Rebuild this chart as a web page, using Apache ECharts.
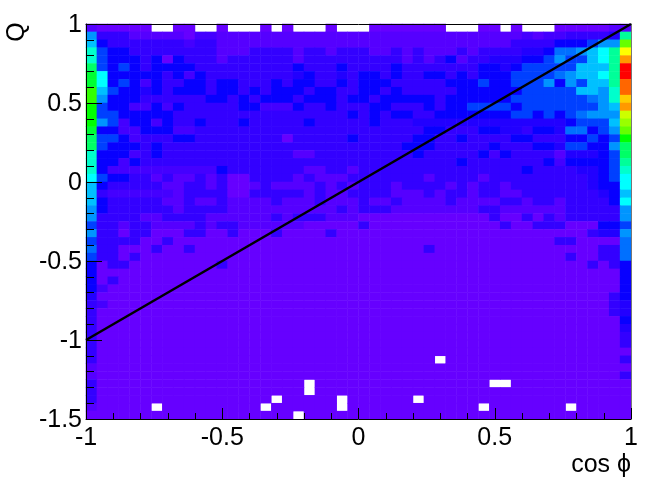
<!DOCTYPE html>
<html>
<head>
<meta charset="utf-8">
<style>html,body{margin:0;padding:0;background:#fff}#c{width:664px;height:477px}</style>
<script src="https://cdn.jsdelivr.net/npm/echarts@6/dist/echarts.min.js"></script>
</head>
<body>
<div id="c"></div>
<script>
// Each row is one Q bin (top to bottom), each character a cos-phi bin: colour level 0-9,a-p; "." = empty bin.
const rowsUpper = [
"100000..00 ..0...0.0. ..0...0000 000...00.0 ...0000011",
"8333111110 2211111111 1111111111 1111111111 212233334c",
"9533333332 3311111111 1111111111 1111111113 333555688h",
"b655333333 3311133331 3313331131 3111313333 4457789ack",
"b655535053 3313333331 3333333331 3135133444 5568669acm",
"d656535555 3333333335 3335333353 3333335545 66666999cp",
"ea55555352 5333333334 5334355353 3553535556 6667899acp",
"ea56525335 5355333535 5335355533 3335556556 66858699cn",
"g965545355 5355353555 3553355353 3333555555 66666998bn",
"g855533333 3553535553 5553553555 5535555556 66666678bl",
"f655225253 3333552225 3353335533 3535566665 666666689m",
"f665555533 3333333333 3333535355 3355555556 656567888j",
"f862552533 5333533333 5333335333 4444444444 444456669i",
"e552255522 3333333333 3333333333 3553335544 355477568h",
"d665233355 3333333303 3333533333 5533533335 533355656f",
"d655535333 3333333333 3333333335 5533333533 355466558d",
"b555235333 3333333331 1333333333 5333335253 333144456d"
];
const rowsMiddle = [
"b552533333 3333333333 3333333333 3333533333 335255556c",
"b522222222 2253333333 1133133333 3333333333 533334456b",
"a655331311 3130033331 3111333333 3133331333 333333456a",
"9533333113 3130013111 1313133313 3331313313 333333455a",
"9322222213 3330033333 1311333311 1313313311 3333333459",
"9533333113 1131111311 1311131131 1113111133 133133335a",
"8533333313 3331111111 1113133311 1111113311 1111333338",
"8333311333 3111111313 3311100000 0000000300 3031333338",
"6331331111 3133111111 0000030000 0000000030 0333000556",
"8330330003 3003000300 0030000000 0000000000 0000003448",
"6333300300 0000000000 0000000000 0000000000 0003300007",
"7330003003 0000000000 0000000000 0300000000 0000000337",
"6330300000 0000000000 0000000000 0000000000 0000300337",
"5033000000 0030000000 0000000000 0000000000 0000003035",
"5000000000 0000000000 0000000000 0000000000 0000000005",
"5030000000 0000000000 0000000000 0000000000 0000000005"
];
const rowsLower = [
"5200000000 0000000000 0000000000 0000000000 0000000005",
"4000000000 0000000000 0000000000 0000000000 0000000035",
"3200000000 0000000000 0000000000 0000000000 0000000034",
"3000000000 0000000000 0000000000 0000000000 0000000034",
"3000000000 0000000000 0000000000 0000000000 0000000005",
"3000000000 0000000000 0000000000 0000000000 0000000004",
"3000000000 0000000000 0000000000 0000000000 0000000003",
"3000000000 0000000000 0000000000 0000000000 0000000003",
"3000000000 0000000000 0000000000 0000000000 0000000000",
"3000000000 0000000000 0000000000 00.0000000 0000000003",
"1000000000 0000000000 0000000000 0000000000 0000000000",
"1000000000 0000000000 0000000000 0000000000 0000000003",
"3000000000 0000000000 .000000000 0000000..0 0000000000",
"3000000000 0000000000 .000000000 0000000000 0000000000",
"3000000000 0000000.00 000.000000 .000000000 0000000000",
"100000.000 000000.000 000.000000 000000.000 0000.00000",
"0000000000 000000000. 0000000000 0000000000 0000000000"
];
const palette = ["#6600ff","#5500ff","#4400ff","#3300ff","#2200ff","#0800ff","#0040ff","#0070ff",
  "#0095ff","#00c0ff","#00ffff","#00ffcc","#00ff99","#00ff66","#00ff33","#00ff00","#33ff00",
  "#66ff00","#99ff00","#ccff00","#ffff00","#ffcc00","#ff9900","#ff6600","#ff3300","#ff0000"];
const diagonal = [[-1,-1],[1,1]];
const xRange = [-1,1];
const yRange = [-1.5,1];
const yTickLabels = [1,0.5,0,-0.5,-1,-1.5];

const rows = rowsUpper.concat(rowsMiddle, rowsLower).map(r => r.replace(/ /g,''));
const nY = rows.length, nX = rows[0].length;
const cells = [];
rows.forEach((r,i) => {
  for (let k=0;k<nX;k++){
    if (r[k] !== '.') cells.push([k, nY-1-i, parseInt(r[k],36)]);
  }
});
const xCats = Array.from({length:nX},(_,i)=>String(i));
const yCats = Array.from({length:nY},(_,i)=>String(i));

const FONT = '"Liberation Sans", Arial, sans-serif';
const rect = {left:86, top:24, width:545, height:395, containLabel:false};
const hiddenCat = (data, idx) => ({type:'category', data, gridIndex:idx, boundaryGap:true,
  axisLine:{show:false}, axisTick:{show:false}, axisLabel:{show:false}, splitLine:{show:false}, splitArea:{show:false}});
const fmt = v => String(Math.round(v*10)/10);
const chart = echarts.init(document.getElementById('c'), null, {renderer:'canvas'});
chart.setOption({
  animation:false,
  backgroundColor:'#fff',
  grid:[Object.assign({},rect), Object.assign({},rect)],
  xAxis:[
    hiddenCat(xCats,0),
    {type:'value', gridIndex:1, min:xRange[0], max:xRange[1], interval:0.5, z:10,
     axisLine:{show:true,onZero:false,lineStyle:{color:'#000',width:1}},
     axisTick:{show:true,inside:true,length:11,lineStyle:{color:'#000',width:1}},
     minorTick:{show:true,splitNumber:5,length:6,lineStyle:{color:'#000',width:1}},
     splitLine:{show:false},
     axisLabel:{show:true,color:'#000',fontFamily:FONT,fontSize:25,margin:7,formatter:fmt,
       showMinLabel:true,showMaxLabel:true,hideOverlap:false}},
    {type:'value', gridIndex:1, position:'top', min:xRange[0], max:xRange[1], z:10,
     axisLine:{show:true,onZero:false,lineStyle:{color:'#000',width:1}},
     axisTick:{show:false}, axisLabel:{show:false}, splitLine:{show:false}}
  ],
  yAxis:[
    hiddenCat(yCats,0),
    {type:'value', gridIndex:1, min:yRange[0], max:yRange[1], interval:0.5, z:10,
     axisLine:{show:true,onZero:false,lineStyle:{color:'#000',width:1}},
     axisTick:{show:true,inside:true,length:16,lineStyle:{color:'#000',width:1}},
     minorTick:{show:true,splitNumber:5,length:8,lineStyle:{color:'#000',width:1}},
     splitLine:{show:false}, axisLabel:{show:false}},
    {type:'value', gridIndex:1, position:'right', min:yRange[0], max:yRange[1], z:10,
     axisLine:{show:true,onZero:false,lineStyle:{color:'#777',width:1}},
     axisTick:{show:false}, axisLabel:{show:false}, splitLine:{show:false}}
  ],
  visualMap:{show:false, type:'piecewise', dimension:2, seriesIndex:0,
    pieces:palette.map((c,i)=>({value:i,color:c}))},
  series:[
    {type:'heatmap', xAxisIndex:0, yAxisIndex:0, data:cells, progressive:0, silent:true,
     itemStyle:{borderWidth:0}, emphasis:{disabled:true}},
    {type:'line', xAxisIndex:1, yAxisIndex:1, data:diagonal, symbol:'none', silent:true, z:8,
     lineStyle:{color:'#000',width:2.5}}
  ]
});
const yLabelX = chart.convertToPixel({xAxisIndex:1}, xRange[0]) - 4;
chart.setOption({
  graphic: yTickLabels.map(v => ({type:'text', x:yLabelX, y:chart.convertToPixel({yAxisIndex:1}, v)+1.5, z:20,
     style:{text:fmt(v), fontFamily:FONT, fontSize:25, fill:'#000', align:'right', verticalAlign:'middle'}}))
   .concat([
    {type:'text', x:17, y:32, rotation:Math.PI/2, z:20,
     style:{text:'Q', fontFamily:FONT, fontSize:25, fill:'#000', align:'center', verticalAlign:'middle'}},
    {type:'text', x:631, y:465, z:20,
     style:{text:'cos ϕ', fontFamily:FONT, fontSize:25, fill:'#000', align:'right', verticalAlign:'middle'}}
  ])
});
</script>
</body>
</html>
